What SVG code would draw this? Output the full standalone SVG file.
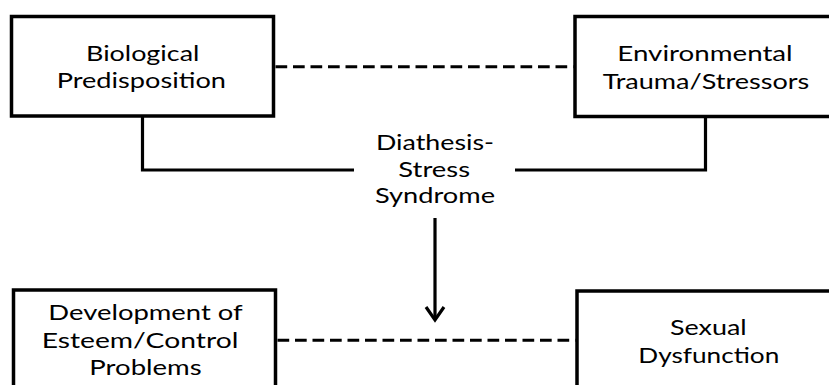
<svg xmlns="http://www.w3.org/2000/svg" width="829" height="385" viewBox="0 0 829 385">
<style>
.box{fill:#fff;stroke:#000;stroke-width:3.5}
.t{font-family:Lato,"Open Sans",sans-serif;font-size:22px;fill:#000;text-anchor:middle}
.ln{fill:none;stroke:#000;stroke-width:3.2}
.dash{fill:none;stroke:#000;stroke-width:3;stroke-dasharray:11.7 5.8}
</style>
<rect width="829" height="385" fill="#fff"/>
<g id="connectors">
<line class="dash" x1="275.5" y1="66.7" x2="573.5" y2="66.7"/>
<line class="dash" x1="277.5" y1="340.3" x2="575.5" y2="340.3"/>
<polyline class="ln" points="142.5,117 142.5,170 354,170"/>
<polyline class="ln" points="515,170 705.5,170 705.5,117"/>
<line class="ln" x1="435" y1="218" x2="435" y2="320"/>
<polyline class="ln" points="426,307 435,320 444,307"/>
</g>
<g id="node-biological">
<rect class="box" x="11.5" y="16.5" width="262" height="99.5"/>
<text class="t" x="142.7" y="61" textLength="113.3" lengthAdjust="spacingAndGlyphs">Biological</text>
<text class="t" x="141.3" y="88" textLength="169.3" lengthAdjust="spacingAndGlyphs">Predisposition</text>
</g>
<g id="node-environmental">
<rect class="box" x="575" y="16.5" width="263" height="100"/>
<text class="t" x="705" y="61" textLength="175.3" lengthAdjust="spacingAndGlyphs">Environmental</text>
<text class="t" x="706" y="89" textLength="206.7" lengthAdjust="spacingAndGlyphs">Trauma/Stressors</text>
</g>
<g id="node-diathesis">
<text class="t" x="435" y="150" textLength="118" lengthAdjust="spacingAndGlyphs">Diathesis-</text>
<text class="t" x="434.2" y="176.7" textLength="71.7" lengthAdjust="spacingAndGlyphs">Stress</text>
<text class="t" x="435" y="203" textLength="120" lengthAdjust="spacingAndGlyphs">Syndrome</text>
</g>
<g id="node-esteem">
<rect class="box" x="13.5" y="290" width="262" height="120"/>
<text class="t" x="145.5" y="320" textLength="194.3" lengthAdjust="spacingAndGlyphs">Development of</text>
<text class="t" x="140" y="348" textLength="196.7" lengthAdjust="spacingAndGlyphs">Esteem/Control</text>
<text class="t" x="145.5" y="375" textLength="112.3" lengthAdjust="spacingAndGlyphs">Problems</text>
</g>
<g id="node-sexual">
<rect class="box" x="577" y="291" width="262" height="120"/>
<text class="t" x="708.3" y="335" textLength="76.7" lengthAdjust="spacingAndGlyphs">Sexual</text>
<text class="t" x="708.8" y="362.7" textLength="141" lengthAdjust="spacingAndGlyphs">Dysfunction</text>
</g>
</svg>
